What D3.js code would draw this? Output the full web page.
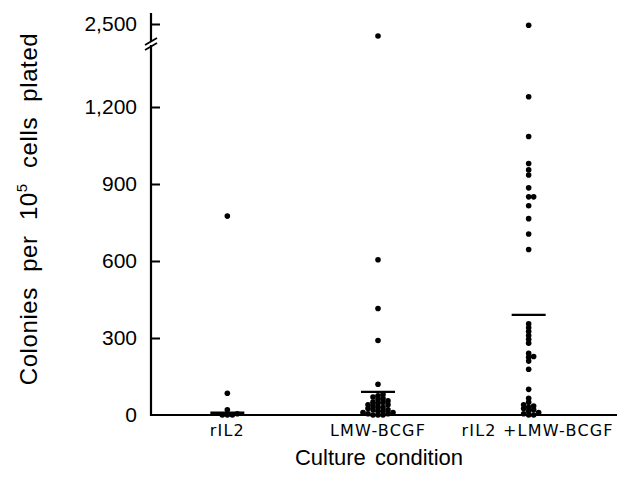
<!DOCTYPE html>
<html>
<head>
<meta charset="utf-8">
<script src="https://cdn.jsdelivr.net/npm/d3@7"></script>
<style>
    body { margin: 0; background: #fff; }
    .tick-label { font-family: "Liberation Sans", Arial, sans-serif; font-size: 21px; fill: #000; }
    .cat-label { font-family: "DejaVu Sans", sans-serif; font-size: 16px; fill: #000; letter-spacing: 1.2px; }
    .axis-title { font-family: "Liberation Sans", Arial, sans-serif; font-size: 24px; fill: #000; letter-spacing: 0.6px; word-spacing: 8px; }
</style>
</head>
<body>
<div id="chart"></div>
<script>
const categories = ["rIL2", "LMW-BCGF", "rIL2 +LMW-BCGF"];
const rIL2Values = [775, 85, 20, 5, 0, 0, 0];
const lmwValues = [2300, 605, 415, 290, 120, 80, 75, 70, 65, 60, 55, 50, 50, 45, 40, 40, 35, 30, 30, 25, 20, 20, 15, 15, 10, 10, 5, 5, 0, 0, 0];
const comboValues = [2480, 1240, 1085, 980, 955, 935, 885, 850, 850, 815, 765, 705, 645,
    355, 340, 325, 310, 295, 280, 240, 228, 225, 210, 178, 100, 65, 50, 40, 35, 30, 25, 20, 15, 10, 5, 0, 0];
const meanValues = [8, 90, 390];
const lowerTicks = [0, 300, 600, 900, 1200];
const upperTicks = [2500];

function renderChart() {
    const width = 617;
    const height = 492;
    const axisX = 151;
    const axisY = 415;
    const breakY = 44;

    const svg = d3.select("#chart").append("svg")
        .attr("width", width)
        .attr("height", height);

    const xScale = d3.scaleBand()
        .domain(categories)
        .range([152, 604]);

    // lower and upper segment of the broken y-axis
    const yLow = d3.scaleLinear().domain([0, 1200]).range([axisY, 107]);
    const yHigh = d3.scaleLinear().domain([2000, 2600]).range([54, 18]);
    const yPos = function (v) { return v > 1300 ? yHigh(v) : yLow(v); };

    // axes
    svg.append("g")
        .attr("transform", `translate(${axisX}, 0)`)
        .call(d3.axisLeft(yLow).tickValues(lowerTicks).tickFormat(d3.format(",")).tickSizeInner(-9).tickSizeOuter(0).tickPadding(14))
        .call(g => g.select(".domain").remove());
    svg.append("g")
        .attr("transform", `translate(${axisX}, 0)`)
        .call(d3.axisLeft(yHigh).tickValues(upperTicks).tickFormat(d3.format(",")).tickSizeInner(-9).tickSizeOuter(0).tickPadding(14))
        .call(g => g.select(".domain").remove());
    svg.selectAll(".tick line").attr("stroke", "#000").attr("stroke-width", 2);
    svg.selectAll(".tick text").attr("class", "tick-label").attr("font-family", null).attr("font-size", null);
    svg.selectAll(".tick").filter(d => d === 0).select("line").remove();

    svg.append("line")
        .attr("x1", axisX).attr("x2", axisX)
        .attr("y1", 13).attr("y2", axisY + 1)
        .attr("stroke", "#000").attr("stroke-width", 2.2);
    svg.append("line")
        .attr("x1", axisX - 1).attr("x2", width)
        .attr("y1", axisY).attr("y2", axisY)
        .attr("stroke", "#000").attr("stroke-width", 2);

    // break marks
    svg.append("rect")
        .attr("x", axisX - 3).attr("y", breakY - 3)
        .attr("width", 6).attr("height", 4)
        .attr("fill", "#fff");
    [0, 5].forEach(function (off) {
        svg.append("line")
            .attr("x1", axisX - 6).attr("y1", breakY + 1 + off)
            .attr("x2", axisX + 6).attr("y2", breakY - 6 + off)
            .attr("stroke", "#000").attr("stroke-width", 1.8);
    });

    // category labels
    svg.selectAll(".cat-label")
        .data(categories)
        .join("text")
        .attr("class", "cat-label")
        .attr("x", (d, i) => xScale(d) + xScale.bandwidth() / 2 + (i === 2 ? 9 : 0))
        .attr("y", 436)
        .attr("text-anchor", "middle")
        .text(d => d);

    // axis titles
    svg.append("text")
        .attr("class", "axis-title")
        .attr("x", 379)
        .attr("y", 465)
        .attr("text-anchor", "middle")
        .style("font-size", "22px")
        .style("letter-spacing", "0px")
        .style("word-spacing", "3px")
        .text("Culture condition");

    const yTitle = svg.append("text")
        .attr("class", "axis-title")
        .attr("transform", "translate(37, 209) rotate(-90)")
        .attr("text-anchor", "middle");
    yTitle.append("tspan").text("Colonies per 10");
    yTitle.append("tspan").attr("dy", -10).style("font-size", "15px").text("5");
    yTitle.append("tspan").attr("dy", 10).text(" cells plated");

    // simple beeswarm so that stacked dots spread sideways
    function swarm(values) {
        const placed = [];
        const sorted = values.slice().sort((a, b) => a - b);
        sorted.forEach(function (v) {
            const y = yPos(v);
            const step = 5;
            let k = 0;
            while (true) {
                const dx = (k === 0) ? 0 : (k % 2 === 1 ? 1 : -1) * Math.ceil(k / 2) * step;
                const hit = placed.some(p => Math.hypot(p.dx - dx, p.y - y) < 3.8);
                if (!hit) { placed.push({ v: v, y: y, dx: dx }); break; }
                k++;
            }
        });
        return placed;
    }

    const groups = [rIL2Values, lmwValues, comboValues];
    groups.forEach(function (vals, i) {
        const cx = xScale(categories[i]) + xScale.bandwidth() / 2;
        svg.append("g")
            .selectAll("circle")
            .data(swarm(vals))
            .join("circle")
            .attr("cx", d => cx + d.dx)
            .attr("cy", d => d.y)
            .attr("r", 2.8)
            .attr("fill", "#000");

        svg.append("line")
            .attr("x1", cx - 17).attr("x2", cx + 17)
            .attr("y1", yLow(meanValues[i])).attr("y2", yLow(meanValues[i]))
            .attr("stroke", "#000").attr("stroke-width", i === 0 ? 3 : 2.2);
    });
}

renderChart();
</script>
</body>
</html>
